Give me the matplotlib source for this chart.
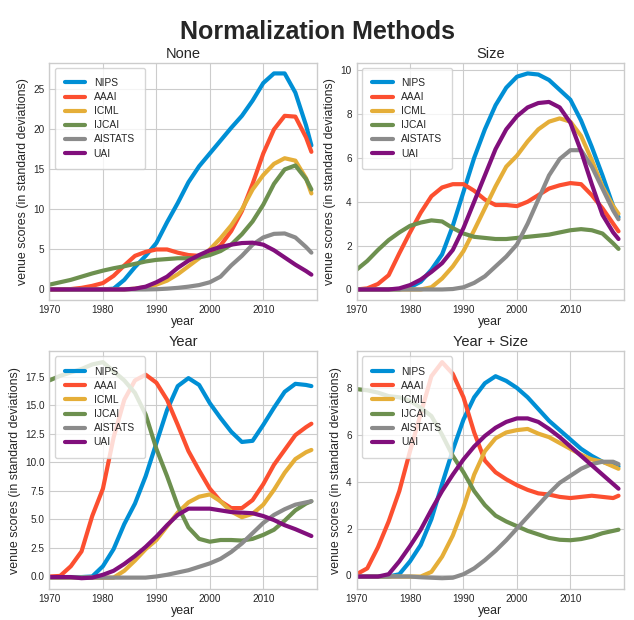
import matplotlib
matplotlib.use("Agg")
import matplotlib.pyplot as plt

### data (every 2 years + 2019)

years = list(range(1970, 2019, 2)) + [2019]
venues = ["NIPS", "AAAI", "ICML", "IJCAI", "AISTATS", "UAI"]
colors = ["#008fd5", "#fc4f30", "#e5ae38", "#6d904f", "#8b8b8b", "#810f7c"]

# (1) None
none_nips = [0, 0, 0, 0, 0, 0, 0.1, 1.2, 2.8, 4.2, 5.8, 8.4, 10.8, 13.4, 15.4, 17.0, 18.6, 20.2, 21.7, 23.6, 25.8, 27.0, 27.0, 24.6, 20.5, 18.0]
none_aaai = [0, 0, 0.05, 0.2, 0.45, 0.8, 1.7, 3.0, 4.2, 4.7, 5.0, 5.0, 4.6, 4.3, 4.2, 4.6, 5.5, 7.3, 9.8, 13.2, 17.0, 20.0, 21.7, 21.6, 19.0, 17.2]
none_icml = [0, 0, 0, 0, 0, 0, 0, 0, 0.1, 0.3, 0.6, 1.1, 1.9, 2.9, 3.9, 5.0, 6.4, 8.0, 10.0, 12.5, 14.3, 15.7, 16.4, 16.1, 13.9, 12.0]
none_ijcai = [0.6, 0.9, 1.2, 1.6, 2.0, 2.35, 2.65, 2.9, 3.2, 3.5, 3.7, 3.8, 3.9, 3.9, 4.0, 4.3, 4.8, 5.6, 6.9, 8.5, 10.6, 13.2, 15.0, 15.5, 13.8, 12.5]
none_aistats = [0, 0, 0, 0, 0, 0, 0, 0, 0, 0, 0.03, 0.1, 0.2, 0.35, 0.55, 0.9, 1.6, 3.0, 4.2, 5.6, 6.5, 6.95, 7.0, 6.5, 5.3, 4.6]
none_uai = [0, 0, 0, 0, 0, 0, 0, 0, 0.1, 0.35, 0.9, 1.6, 2.7, 3.6, 4.3, 4.9, 5.3, 5.6, 5.8, 5.85, 5.6, 4.9, 4.0, 3.1, 2.3, 1.85]

# (2) Size
size_nips = [0, 0, 0, 0, 0, 0.1, 0.35, 0.9, 1.6, 2.9, 4.45, 6.0, 7.3, 8.4, 9.2, 9.7, 9.85, 9.8, 9.55, 9.1, 8.65, 7.7, 6.5, 5.2, 3.8, 3.3]
size_aaai = [0, 0.05, 0.25, 0.65, 1.65, 2.6, 3.5, 4.25, 4.65, 4.8, 4.8, 4.5, 4.1, 3.85, 3.85, 3.8, 4.0, 4.3, 4.6, 4.75, 4.85, 4.8, 4.3, 3.7, 3.0, 2.65]
size_icml = [0, 0, 0, 0, 0, 0, 0, 0.1, 0.5, 1.05, 1.75, 2.7, 3.7, 4.7, 5.6, 6.1, 6.75, 7.3, 7.65, 7.8, 7.65, 7.0, 5.9, 4.7, 3.8, 3.45]
size_ijcai = [0.9, 1.3, 1.8, 2.25, 2.6, 2.9, 3.05, 3.15, 3.1, 2.8, 2.55, 2.4, 2.35, 2.3, 2.3, 2.35, 2.4, 2.45, 2.5, 2.6, 2.7, 2.75, 2.7, 2.55, 2.1, 1.85]
size_aistats = [0, 0, 0, 0, 0, 0, 0, 0, 0, 0.02, 0.1, 0.3, 0.6, 1.05, 1.5, 2.05, 3.0, 4.1, 5.2, 5.95, 6.35, 6.35, 5.6, 4.6, 3.6, 3.2]
size_uai = [0, 0, 0, 0, 0.05, 0.2, 0.45, 0.8, 1.2, 1.8, 2.8, 4.0, 5.2, 6.4, 7.3, 7.9, 8.3, 8.5, 8.55, 8.3, 7.6, 6.3, 4.8, 3.4, 2.6, 2.3]

# (3) Year
year_nips = [-0.05, -0.05, -0.05, -0.05, 0.0, 0.9, 2.4, 4.6, 6.4, 8.8, 11.7, 14.6, 16.7, 17.4, 16.8, 15.2, 13.9, 12.7, 11.8, 11.9, 13.3, 14.8, 16.2, 16.9, 16.8, 16.7]
year_aaai = [0, 0.05, 0.9, 2.2, 5.3, 7.7, 12.2, 15.5, 17.2, 17.7, 17.0, 15.5, 13.3, 11.0, 9.3, 7.7, 6.6, 6.0, 6.0, 6.7, 8.1, 9.8, 11.1, 12.4, 13.1, 13.4]
year_icml = [-0.1, -0.1, -0.1, -0.1, -0.1, -0.1, -0.1, 0.5, 1.4, 2.4, 3.2, 4.4, 5.6, 6.5, 7.0, 7.2, 6.6, 5.7, 5.2, 5.5, 6.3, 7.6, 9.1, 10.3, 10.9, 11.1]
year_ijcai = [17.2, 17.6, 17.9, 18.2, 18.6, 18.8, 18.0, 17.2, 16.1, 14.2, 11.2, 8.8, 6.2, 4.3, 3.3, 3.05, 3.2, 3.2, 3.15, 3.3, 3.65, 4.1, 4.9, 5.8, 6.4, 6.6]
year_aistats = [-0.1, -0.1, -0.1, -0.1, -0.1, -0.1, -0.1, -0.1, -0.1, -0.1, 0.0, 0.15, 0.35, 0.55, 0.85, 1.15, 1.55, 2.15, 2.9, 3.8, 4.7, 5.4, 5.9, 6.3, 6.5, 6.6]
year_uai = [-0.05, -0.05, -0.05, -0.15, -0.1, 0.15, 0.5, 1.1, 1.8, 2.6, 3.5, 4.5, 5.4, 5.95, 5.95, 5.95, 5.8, 5.65, 5.6, 5.55, 5.3, 4.95, 4.5, 4.15, 3.75, 3.55]

# (4) Year + Size
ys_nips = [-0.05, -0.05, -0.05, -0.05, 0.05, 0.6, 1.3, 2.4, 3.9, 5.35, 6.65, 7.6, 8.2, 8.5, 8.3, 8.0, 7.6, 7.1, 6.6, 6.2, 5.8, 5.4, 5.1, 4.85, 4.7, 4.65]
ys_aaai = [0.05, 0.3, 1.2, 2.3, 3.6, 5.3, 6.9, 8.5, 9.1, 8.6, 7.6, 6.1, 4.9, 4.4, 4.1, 3.85, 3.65, 3.5, 3.45, 3.35, 3.3, 3.35, 3.4, 3.35, 3.3, 3.4]
ys_icml = [-0.05, -0.05, -0.05, -0.05, -0.05, -0.05, -0.05, 0.15, 0.8, 1.7, 2.9, 4.3, 5.3, 5.85, 6.1, 6.2, 6.25, 6.05, 5.9, 5.65, 5.4, 5.15, 4.95, 4.85, 4.65, 4.55]
ys_ijcai = [7.95, 7.9, 7.8, 7.65, 7.6, 7.45, 7.15, 6.8, 6.0, 5.1, 4.4, 3.6, 3.0, 2.55, 2.3, 2.1, 1.9, 1.75, 1.6, 1.52, 1.5, 1.55, 1.65, 1.8, 1.9, 1.95]
ys_aistats = [-0.05, -0.05, -0.05, -0.05, -0.05, -0.05, -0.08, -0.1, -0.12, -0.1, 0.05, 0.3, 0.65, 1.05, 1.5, 2.0, 2.5, 3.0, 3.5, 3.95, 4.25, 4.55, 4.75, 4.85, 4.85, 4.75]
ys_uai = [-0.05, -0.05, -0.05, 0.05, 0.6, 1.25, 1.95, 2.8, 3.6, 4.3, 4.95, 5.5, 5.95, 6.3, 6.55, 6.7, 6.7, 6.55, 6.25, 5.9, 5.5, 5.1, 4.7, 4.3, 3.9, 3.7]

panels = [
    ("None", [none_nips, none_aaai, none_icml, none_ijcai, none_aistats, none_uai]),
    ("Size", [size_nips, size_aaai, size_icml, size_ijcai, size_aistats, size_uai]),
    ("Year", [year_nips, year_aaai, year_icml, year_ijcai, year_aistats, year_uai]),
    ("Year + Size", [ys_nips, ys_aaai, ys_icml, ys_ijcai, ys_aistats, ys_uai]),
]

### 스타일
plt.style.use("seaborn-v0_8-whitegrid")
plt.rcParams["font.family"] = ["Liberation Sans", "DejaVu Sans"]
plt.rcParams["text.color"] = ".15"
plt.rcParams["axes.labelcolor"] = ".15"
plt.rcParams["xtick.color"] = ".15"
plt.rcParams["ytick.color"] = ".15"

fig, axes = plt.subplots(2, 2, figsize=(6.34, 6.2), dpi=100)
fig.subplots_adjust(left=0.078, right=0.984, bottom=0.05, top=0.899, wspace=0.149, hspace=0.215)

for ax, (title, series) in zip(axes.flat, panels):
    for name, vals, c in zip(venues, series, colors):
        ax.plot(years, vals, color=c, lw=3, label=name)
    ax.set_xlim(1970, 2020)
    ax.set_xticks([1970, 1980, 1990, 2000, 2010])
    ax.set_title(title, fontsize=10.5, pad=3.5)
    ax.set_xlabel("year", fontsize=8.9, labelpad=0.5)
    ax.set_ylabel("venue scores (in standard deviations)", fontsize=8.9, labelpad=3)
    ax.tick_params(labelsize=7.2, pad=3.5, length=0)
    ax.legend(loc="upper left", frameon=True, fontsize=7.4, labelspacing=0.4, borderpad=1.0)

fig.suptitle("Normalization Methods", fontsize=18, fontweight="bold", y=0.968)

plt.savefig("out.png")
plt.close()
